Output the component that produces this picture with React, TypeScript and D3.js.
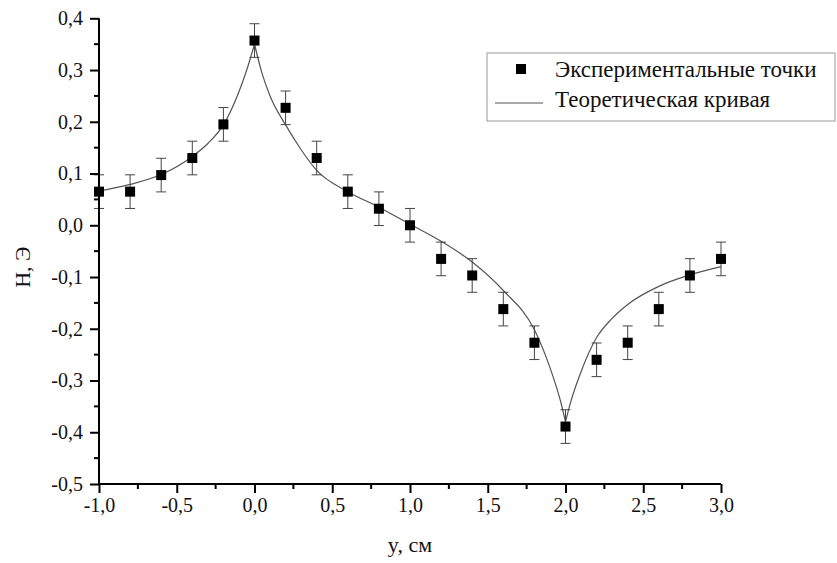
import React, { useEffect, useRef } from 'react';
import * as d3 from 'd3';

// экспериментальные точки
const expY = [-1.0, -0.8, -0.6, -0.4, -0.2, 0.0, 0.2, 0.4, 0.6, 0.8, 1.0, 1.2, 1.4, 1.6, 1.8, 2.0, 2.2, 2.4, 2.6, 2.8, 3.0];
const expH = [0.065, 0.065, 0.097, 0.13, 0.195, 0.357, 0.227, 0.13, 0.065, 0.032, 0.0, -0.065, -0.097, -0.162, -0.227, -0.389, -0.26, -0.227, -0.162, -0.097, -0.065];
const expErr = 0.0325;

// теоретическая кривая (три участка между изломами)
const theoryLeftY = [-1.0, -0.8, -0.6, -0.4, -0.3, -0.2, -0.1, -0.05, 0.0];
const theoryLeftH = [0.066, 0.079, 0.098, 0.133, 0.158, 0.194, 0.258, 0.3, 0.35];
const theoryMidY = [0.0, 0.05, 0.1, 0.2, 0.3, 0.4, 0.6, 0.8, 1.0, 1.2, 1.4, 1.6, 1.8, 1.9, 1.97, 2.0];
const theoryMidH = [0.35, 0.292, 0.25, 0.194, 0.146, 0.106, 0.065, 0.035, 0.002, -0.031, -0.071, -0.126, -0.202, -0.275, -0.342, -0.38];
const theoryRightY = [2.0, 2.03, 2.1, 2.2, 2.3, 2.4, 2.6, 2.8, 3.0];
const theoryRightH = [-0.38, -0.345, -0.283, -0.217, -0.18, -0.153, -0.118, -0.096, -0.08];

const xTicks = [-1.0, -0.5, 0.0, 0.5, 1.0, 1.5, 2.0, 2.5, 3.0];
const yTicks = [-0.5, -0.4, -0.3, -0.2, -0.1, 0.0, 0.1, 0.2, 0.3, 0.4];

const W = 837;
const H = 563;
const fmt = (v: number) => v.toFixed(1).replace('.', ',');
const font = "'Liberation Serif', 'DejaVu Serif', 'Times New Roman', Times, serif";

export default function App() {
  const ref = useRef<SVGSVGElement>(null);

  useEffect(() => {
    const svg = d3.select(ref.current);
    svg.selectAll('*').remove();

    const x = d3.scaleLinear().domain([-1, 3]).range([99, 721]);
    const y = d3.scaleLinear().domain([-0.5, 0.4]).range([484, 18.3]);

    // кривая
    const line = d3
      .line<[number, number]>()
      .x(d => x(d[0]))
      .y(d => y(d[1]))
      .curve(d3.curveMonotoneX);
    const parts: [number[], number[]][] = [
      [theoryLeftY, theoryLeftH],
      [theoryMidY, theoryMidH],
      [theoryRightY, theoryRightH]
    ];
    parts.forEach(([xs, hs]) => {
      svg
        .append('path')
        .attr('d', line(xs.map((v, i) => [v, hs[i]] as [number, number])))
        .attr('fill', 'none')
        .attr('stroke', '#555')
        .attr('stroke-width', 1.2);
    });

    // погрешности
    const pts = expY.map((v, i) => ({ x: v, h: expH[i] }));
    const eb = svg.append('g').attr('stroke', '#444').attr('stroke-width', 1);
    pts.forEach(p => {
      const cx = x(p.x);
      const y1 = y(p.h + expErr);
      const y2 = y(p.h - expErr);
      eb.append('line').attr('x1', cx).attr('x2', cx).attr('y1', y1).attr('y2', y2);
      eb.append('line').attr('x1', cx - 5).attr('x2', cx + 5).attr('y1', y1).attr('y2', y1);
      eb.append('line').attr('x1', cx - 5).attr('x2', cx + 5).attr('y1', y2).attr('y2', y2);
    });

    svg
      .append('g')
      .selectAll('rect')
      .data(pts)
      .enter()
      .append('rect')
      .attr('x', d => x(d.x) - 5)
      .attr('y', d => y(d.h) - 5)
      .attr('width', 10)
      .attr('height', 10)
      .attr('fill', '#000');

    // оси
    const minorX = d3.range(-0.75, 3, 0.5);
    const minorY = d3.range(-0.45, 0.4, 0.1);
    const xAxis = d3
      .axisBottom(x)
      .tickValues(xTicks)
      .tickFormat(d => fmt(d as number))
      .tickSize(9)
      .tickPadding(5);
    const gx = svg.append('g').attr('transform', `translate(0,${y(-0.5)})`).call(xAxis);
    gx.attr('font-family', null).attr('font-size', null);
    gx.selectAll('.tick line').attr('stroke-width', 2);
    gx.selectAll('.tick text').style('font-size', '20px').style('font-family', font).attr('fill', '#111');
    gx.select('.domain').attr('stroke-width', 2).attr('d', `M${x(-1)},0H${x(3)}`);
    gx.selectAll('.minor')
      .data(minorX)
      .enter()
      .append('line')
      .attr('class', 'minor')
      .attr('x1', d => x(d))
      .attr('x2', d => x(d))
      .attr('y1', 0)
      .attr('y2', 5)
      .attr('stroke', '#000')
      .attr('stroke-width', 2);

    const yAxis = d3
      .axisLeft(y)
      .tickValues(yTicks)
      .tickFormat(d => fmt(d as number))
      .tickSize(9)
      .tickPadding(7);
    const gy = svg.append('g').attr('transform', `translate(${x(-1)},0)`).call(yAxis);
    gy.attr('font-family', null).attr('font-size', null);
    gy.selectAll('.tick line').attr('stroke-width', 2);
    gy.selectAll('.tick text').style('font-size', '20px').style('font-family', font).attr('fill', '#111');
    gy.select('.domain').attr('stroke-width', 2).attr('d', `M0,${y(0.4)}V${y(-0.5)}`);
    gy.selectAll('.minor')
      .data(minorY)
      .enter()
      .append('line')
      .attr('class', 'minor')
      .attr('x1', -5)
      .attr('x2', 0)
      .attr('y1', d => y(d))
      .attr('y2', d => y(d))
      .attr('stroke', '#000')
      .attr('stroke-width', 2);

    // подписи осей
    svg
      .append('text')
      .attr('x', 410)
      .attr('y', 552)
      .attr('text-anchor', 'middle')
      .style('font-family', font)
      .style('font-size', '22px')
      .attr('fill', '#111')
      .text('y, см');
    svg
      .append('text')
      .attr('transform', `translate(30,${(y(0.4) + y(-0.5)) / 2 + 16}) rotate(-90)`)
      .attr('text-anchor', 'middle')
      .style('font-family', font)
      .style('font-size', '22px')
      .attr('fill', '#111')
      .text('H, Э');

    // легенда
    const lg = svg.append('g');
    lg.append('rect')
      .attr('x', 487)
      .attr('y', 53)
      .attr('width', 348)
      .attr('height', 68)
      .attr('fill', '#fff')
      .attr('stroke', '#999')
      .attr('stroke-width', 1);
    lg.append('rect').attr('x', 516).attr('y', 64).attr('width', 10).attr('height', 10).attr('fill', '#000');
    lg.append('line').attr('x1', 495).attr('x2', 543).attr('y1', 103).attr('y2', 103).attr('stroke', '#555').attr('stroke-width', 1.2);
    lg.append('text')
      .attr('x', 555)
      .attr('y', 77)
      .style('font-family', font)
      .style('font-size', '23px')
      .attr('fill', '#111')
      .text('Экспериментальные точки');
    lg.append('text')
      .attr('x', 555)
      .attr('y', 107)
      .style('font-family', font)
      .style('font-size', '23px')
      .attr('fill', '#111')
      .text('Теоретическая кривая');
  }, []);

  return (
    <svg
      ref={ref}
      width={W}
      height={H}
      style={{ position: 'absolute', left: 0, top: 0, background: '#fff' }}
    />
  );
}
